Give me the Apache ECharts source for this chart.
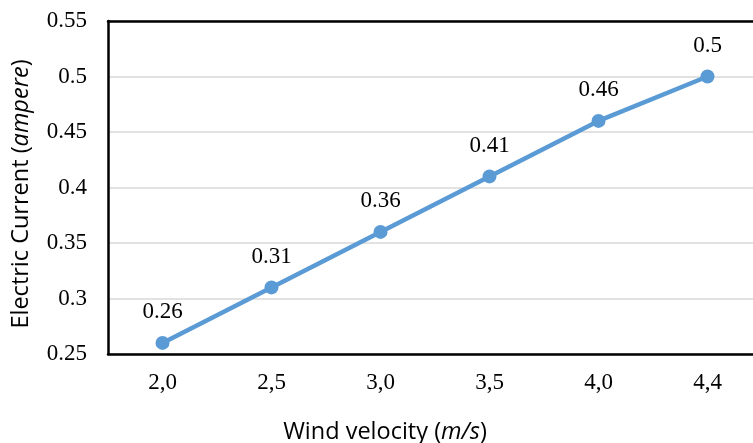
<!DOCTYPE html>
<html>
<head>
<meta charset="utf-8">
<script src="https://cdn.jsdelivr.net/npm/echarts@6/dist/echarts.min.js"></script>
<style>html,body{margin:0;padding:0;background:#fff;overflow:hidden}#c{width:762px;height:443px}</style>
</head>
<body>
<div id="c"></div>
<script>
var categories = ['2,0', '2,5', '3,0', '3,5', '4,0', '4,4'];
var currentValues = [0.26, 0.31, 0.36, 0.41, 0.46, 0.5];
var xTitle = 'Wind velocity ({i|m/s})';
var yTitle = 'Electric Current ({i|ampere})';

var chart = echarts.init(document.getElementById('c'));
var serif = '"Liberation Serif", "Times New Roman", serif';
var sans = '"Open Sans", "Liberation Sans", sans-serif';
var frame = {show: true, lineStyle: {color: '#000', width: 2.5}};
chart.setOption({
  animation: false,
  backgroundColor: '#fff',
  grid: {left: 108, top: 21, right: 0, bottom: 89},
  xAxis: [{
    type: 'category',
    data: categories,
    boundaryGap: true,
    axisLine: frame,
    axisTick: {show: false},
    axisLabel: {fontFamily: serif, fontSize: 23, color: '#000', margin: 17}
  }, {
    type: 'category',
    position: 'top',
    data: categories,
    axisLine: frame,
    axisTick: {show: false},
    axisLabel: {show: false}
  }],
  yAxis: {
    type: 'value',
    min: 0.25,
    max: 0.55,
    interval: 0.05,
    axisLine: frame,
    axisTick: {show: false},
    splitLine: {lineStyle: {color: '#d9d9d9', width: 1.5}},
    axisLabel: {fontFamily: serif, fontSize: 23, color: '#000', margin: 21,
      formatter: function (v) { return String(Math.round(v * 100) / 100); }}
  },
  graphic: [{
    type: 'text',
    x: 385, y: 432,
    style: {
      text: xTitle, x: 0, y: 0, align: 'center', verticalAlign: 'middle',
      fontFamily: sans, fontSize: 23.5, fill: '#000',
      rich: {i: {fontFamily: sans, fontSize: 23.5, fontStyle: 'italic', fill: '#000'}}
    }
  }, {
    type: 'text',
    x: 21, y: 194, rotation: Math.PI / 2,
    style: {
      text: yTitle, x: 0, y: 0, align: 'center', verticalAlign: 'middle',
      fontFamily: sans, fontSize: 23.5, fill: '#000',
      rich: {i: {fontFamily: sans, fontSize: 23.5, fontStyle: 'italic', fill: '#000'}}
    }
  }],
  series: [{
    type: 'line',
    data: currentValues,
    symbol: 'circle',
    symbolSize: 14,
    lineStyle: {color: '#5B9BD5', width: 4.5},
    itemStyle: {color: '#5B9BD5'},
    label: {show: true, position: 'top', distance: 12, fontFamily: serif, fontSize: 23, color: '#000'}
  }]
});
</script>
</body>
</html>
